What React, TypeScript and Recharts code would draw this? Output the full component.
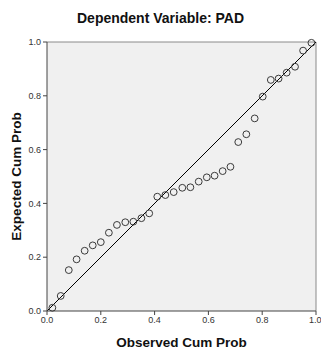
import {
  ScatterChart,
  Scatter,
  XAxis,
  YAxis,
  CartesianGrid,
  ReferenceLine,
} from "recharts";

const observedCumProb = [
  0.02, 0.051, 0.081, 0.11, 0.14, 0.17, 0.2, 0.23, 0.26, 0.291, 0.321, 0.351,
  0.38, 0.41, 0.44, 0.471, 0.503, 0.533, 0.564, 0.594, 0.623, 0.653, 0.682,
  0.711, 0.741, 0.772, 0.802, 0.832, 0.861, 0.891, 0.922, 0.952, 0.983,
];

const expectedCumProb = [
  0.012, 0.056, 0.152, 0.192, 0.224, 0.244, 0.256, 0.291, 0.32, 0.33, 0.332,
  0.345, 0.363, 0.425, 0.431, 0.442, 0.458, 0.46, 0.481, 0.497, 0.503, 0.52,
  0.536, 0.628, 0.657, 0.716, 0.797, 0.859, 0.864, 0.886, 0.908, 0.968, 0.997,
];

const ticks = [0, 0.2, 0.4, 0.6, 0.8, 1];

const points = observedCumProb.map((x, i) => ({ x, y: expectedCumProb[i] }));

const font = "Arial, 'Liberation Sans', sans-serif";

const Ring = (props: any) => (
  <circle
    cx={props.cx}
    cy={props.cy}
    r={3.4}
    fill="none"
    stroke="#3a3a3a"
    strokeWidth={1}
  />
);

export default function App() {
  return (
    <div style={{ position: "absolute", left: 0, top: 0, width: 321, height: 352 }}>
      <div
        style={{
          position: "absolute",
          top: 10,
          left: 0,
          width: 321,
          textAlign: "center",
          fontFamily: font,
          fontSize: 14,
          fontWeight: "bold",
          color: "#111",
        }}
      >
        Dependent Variable: PAD
      </div>
      <ScatterChart
        width={321}
        height={352}
        margin={{ top: 42, right: 5, bottom: 0, left: 0 }}
      >
        <CartesianGrid fill="#f0f0f0" horizontal={false} vertical={false} />
        <XAxis
          type="number"
          dataKey="x"
          domain={[0, 1]}
          ticks={ticks}
          tickFormatter={(v: number) => v.toFixed(1)}
          height={41}
          tickSize={4}
          stroke="#444"
          tick={{ fill: "#333", fontSize: 9, fontFamily: font }}
          label={{
            value: "Observed Cum Prob",
            position: "insideBottom",
            offset: 5,
            style: { fill: "#111", fontSize: 13.5, fontWeight: "bold", fontFamily: font },
          }}
        />
        <YAxis
          type="number"
          dataKey="y"
          domain={[0, 1]}
          ticks={ticks}
          tickFormatter={(v: number) => v.toFixed(1)}
          width={47}
          tickSize={4}
          stroke="#444"
          tick={{ fill: "#333", fontSize: 9, fontFamily: font }}
          label={{
            value: "Expected Cum Prob",
            angle: -90,
            position: "insideLeft",
            offset: 16,
            style: {
              fill: "#111",
              fontSize: 13.5,
              fontWeight: "bold",
              fontFamily: font,
              textAnchor: "middle",
            },
          }}
        />
        <ReferenceLine y={1} stroke="#8a8a8a" />
        <ReferenceLine x={1} stroke="#8a8a8a" />
        <ReferenceLine
          segment={[
            { x: 0, y: 0 },
            { x: 1, y: 1 },
          ]}
          stroke="#000"
          strokeWidth={1}
        />
        <Scatter data={points} shape={Ring} isAnimationActive={false} />
      </ScatterChart>
    </div>
  );
}
